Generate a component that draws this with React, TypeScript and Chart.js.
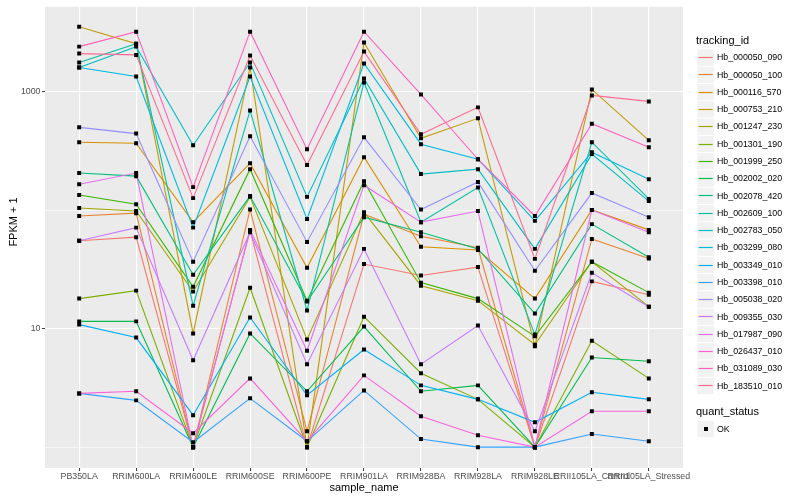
import React, { useEffect, useRef } from "react";
import { Chart, registerables } from "chart.js";

Chart.register(...registerables);

const FONT = '"Liberation Sans", Arial, sans-serif';

const sampleNames = [
  "PB350LA", "RRIM600LA", "RRIM600LE", "RRIM600SE", "RRIM600PE", "RRIM901LA",
  "RRIM928BA", "RRIM928LA", "RRIM928LE", "RRII105LA_Control", "RRII105LA_Stressed",
];

const trackingIds = [
  "Hb_000050_090", "Hb_000050_100", "Hb_000116_570", "Hb_000753_210", "Hb_001247_230",
  "Hb_001301_190", "Hb_001999_250", "Hb_002002_020", "Hb_002078_420", "Hb_002609_100",
  "Hb_002783_050", "Hb_003299_080", "Hb_003349_010", "Hb_003398_010", "Hb_005038_020",
  "Hb_009355_030", "Hb_017987_090", "Hb_026437_010", "Hb_031089_030", "Hb_183510_010",
];

const seriesColors = [
  "#F8766D", "#EA8331", "#D89000", "#C09B00", "#A3A500", "#7CAE00", "#39B600", "#00BB4E",
  "#00BF7D", "#00C1A3", "#00BFC4", "#00BAE0", "#00B0F6", "#35A2FF", "#9590FF", "#C77CFF",
  "#E76BF3", "#FA62DB", "#FF62BC", "#FF6C91",
];

// FPKM + 1 values, one array per gene, in sampleNames order
const Hb_000050_090 = [55, 59, 1, 67, 1, 35, 28, 33, 1, 25, 19.3];
const Hb_000050_100 = [89, 94, 1, 101, 1.36, 92, 60, 48, 1, 57, 39];
const Hb_000116_570 = [373, 366, 79, 248, 32.6, 279, 49, 46, 17.9, 100, 68];
const Hb_000753_210 = [3516, 2531, 9.1, 1592, 1, 2582, 403, 593, 7.1, 1040, 387];
const Hb_001247_230 = [104, 98, 20.5, 129, 8.1, 96, 23, 17.2, 7.3, 36.6, 15.3];
const Hb_001301_190 = [17.9, 20.9, 1, 22.1, 1, 12.6, 4.2, 2.53, 1, 7.9, 3.8];
const Hb_001999_250 = [134, 112, 22.5, 221, 17.2, 175, 24.4, 17.9, 8.6, 36.6, 20.1];
const Hb_002002_020 = [11.5, 11.5, 1, 9.1, 2.96, 10.4, 2.96, 3.32, 1, 5.7, 5.3];
const Hb_002078_420 = [205, 193, 28.4, 131, 16.9, 87, 65, 47, 13.4, 76, 40];
const Hb_002609_100 = [1753, 2531, 15.6, 692, 14.2, 1190, 79, 155, 8.9, 373, 124];
const Hb_002783_050 = [1592, 2388, 352, 1753, 129, 1286, 201, 221, 47, 296, 119];
const Hb_003299_080 = [1592, 1337, 71, 1337, 84, 1719, 359, 268, 81, 307, 182];
const Hb_003349_010 = [10.8, 8.4, 1.86, 12.4, 2.74, 6.66, 3.32, 2.53, 1.62, 2.9, 2.53];
const Hb_003398_010 = [2.84, 2.48, 1.1, 2.58, 1.12, 3.01, 1.17, 1, 1, 1.29, 1.12];
const Hb_005038_020 = [498, 441, 36.6, 419, 53.8, 410, 101, 172, 30.7, 139, 87];
const Hb_009355_030 = [55, 71, 5.4, 65, 5.0, 47, 5.0, 10.6, 1.36, 29.6, 15.3];
const Hb_017987_090 = [165, 205, 1, 68, 6.5, 162, 79, 98, 1, 100, 65];
const Hb_026437_010 = [2.84, 2.96, 1.31, 3.8, 1.12, 4.03, 1.82, 1.26, 1, 2.01, 2.01];
const Hb_031089_030 = [2388, 3192, 156, 3192, 326, 3192, 943, 268, 89, 535, 338];
const Hb_183510_010 = [2085, 2033, 126, 2009, 240, 2168, 435, 734, 38.7, 925, 824];

const seriesValues = [
  Hb_000050_090, Hb_000050_100, Hb_000116_570, Hb_000753_210, Hb_001247_230,
  Hb_001301_190, Hb_001999_250, Hb_002002_020, Hb_002078_420, Hb_002609_100,
  Hb_002783_050, Hb_003299_080, Hb_003349_010, Hb_003398_010, Hb_005038_020,
  Hb_009355_030, Hb_017987_090, Hb_026437_010, Hb_031089_030, Hb_183510_010,
];

const yGridValues = [1, 10, 100, 1000];
const yLabelledTicks = [10, 1000];
const quantStatus = ["OK"];

const xTitle = "sample_name";
const yTitle = "FPKM + 1";
const colourLegendTitle = "tracking_id";
const shapeLegendTitle = "quant_status";

const panelBackground = {
  id: "panelBackground",
  beforeDraw(chart: any) {
    const { ctx, chartArea: a } = chart;
    ctx.save();
    ctx.fillStyle = "#EBEBEB";
    ctx.fillRect(a.left, a.top, a.right - a.left, a.bottom - a.top);
    ctx.restore();
  },
};

// ggplot-like axis titles and legends, drawn as canvas text
const ggDecorations = {
  id: "ggDecorations",
  afterDraw(chart: any) {
    const { ctx, chartArea: a } = chart;
    ctx.save();
    ctx.fillStyle = "#000000";
    ctx.font = `11px ${FONT}`;
    ctx.textBaseline = "alphabetic";
    ctx.textAlign = "center";
    ctx.fillText(xTitle, (a.left + a.right) / 2, 491);

    ctx.save();
    ctx.translate(17.3, 222);
    ctx.rotate(-Math.PI / 2);
    ctx.fillText(yTitle, 0, 0);
    ctx.restore();

    const keyLeft = 697;
    const key = 17.28;
    const firstTop = 49;
    ctx.textAlign = "left";
    ctx.fillText(colourLegendTitle, 696, 43.5);
    trackingIds.forEach((id, i) => {
      const top = firstTop + i * key;
      ctx.fillStyle = "#F2F2F2";
      ctx.fillRect(keyLeft, top, key, key);
      ctx.strokeStyle = "#FFFFFF";
      ctx.lineWidth = 0.8;
      ctx.strokeRect(keyLeft, top, key, key);
      const ly = Math.floor(top + key / 2) + 0.5;
      ctx.strokeStyle = seriesColors[i];
      ctx.lineWidth = 1.2;
      ctx.beginPath();
      ctx.moveTo(keyLeft + 1.6, ly);
      ctx.lineTo(keyLeft + key - 1.6, ly);
      ctx.stroke();
      ctx.fillStyle = "#000000";
      ctx.font = `8.8px ${FONT}`;
      ctx.textBaseline = "middle";
      ctx.fillText(id, 717, top + key / 2 + 0.3);
    });

    ctx.font = `11px ${FONT}`;
    ctx.textBaseline = "alphabetic";
    ctx.fillStyle = "#000000";
    ctx.fillText(shapeLegendTitle, 696, 414.8);
    quantStatus.forEach((s, i) => {
      const top = 420.4 + i * key;
      ctx.fillStyle = "#F2F2F2";
      ctx.fillRect(keyLeft, top, key, key);
      ctx.strokeStyle = "#FFFFFF";
      ctx.lineWidth = 0.8;
      ctx.strokeRect(keyLeft, top, key, key);
      ctx.fillStyle = "#000000";
      ctx.fillRect(Math.round(keyLeft + key / 2 - 2), Math.round(top + key / 2 - 2), 4, 4);
      ctx.font = `8.8px ${FONT}`;
      ctx.textBaseline = "middle";
      ctx.fillText(s, 717, top + key / 2 + 0.3);
    });
    ctx.restore();
  },
};

export default function App() {
  const canvasRef = useRef<HTMLCanvasElement>(null);

  useEffect(() => {
    const lineDatasets = trackingIds.map((id, i) => ({
      type: "line" as const,
      label: id,
      data: seriesValues[i].map((v, j) => ({ x: j, y: v })),
      borderColor: seriesColors[i],
      backgroundColor: seriesColors[i],
      borderWidth: 1.1,
      pointRadius: 0,
      fill: false,
      tension: 0,
      order: -1 - i,
    }));
    const pointDataset = {
      type: "scatter" as const,
      label: quantStatus[0],
      data: seriesValues.flatMap((arr) => arr.map((v, j) => ({ x: j, y: v }))),
      pointStyle: "rect",
      pointRadius: 2.8,
      backgroundColor: "#000000",
      borderWidth: 0,
      showLine: false,
      order: -100,
    };

    const chart = new Chart(canvasRef.current as HTMLCanvasElement, {
      type: "line",
      data: { datasets: [...lineDatasets, pointDataset] as any },
      plugins: [panelBackground, ggDecorations],
      options: {
        animation: false,
        responsive: false,
        devicePixelRatio: 1,
        events: [],
        layout: { padding: { left: 0, top: 5, right: 117, bottom: 0 } },
        plugins: { legend: { display: false }, tooltip: { enabled: false }, title: { display: false } },
        scales: {
          x: {
            type: "linear",
            min: -0.6,
            max: 10.6,
            afterBuildTicks: (scale: any) => {
              scale.ticks = sampleNames.map((_, i) => ({ value: i }));
            },
            afterFit: (scale: any) => {
              scale.height = 32;
            },
            ticks: {
              autoSkip: false,
              maxRotation: 0,
              minRotation: 0,
              padding: 0.5,
              color: "#4D4D4D",
              font: { family: FONT, size: 8.8 },
              callback: (v: any) => sampleNames[Math.round(Number(v))] ?? "",
            },
            grid: {
              color: "#FFFFFF",
              lineWidth: 1.1,
              tickColor: "#333333",
              tickLength: 3,
              tickWidth: 1,
            },
            border: { display: false },
          },
          y: {
            type: "logarithmic",
            min: 0.667,
            max: 5176,
            afterBuildTicks: (scale: any) => {
              scale.ticks = yGridValues.map((v) => ({ value: v }));
            },
            afterFit: (scale: any) => {
              scale.width = 45;
            },
            ticks: {
              autoSkip: false,
              padding: 1.5,
              color: "#4D4D4D",
              font: { family: FONT, size: 8.8 },
              callback: (v: any) => (yLabelledTicks.includes(Number(v)) ? String(v) : ""),
            },
            grid: {
              color: "#FFFFFF",
              lineWidth: (c: any) => (c.tick && yLabelledTicks.includes(c.tick.value) ? 1.1 : 0.55),
              tickColor: (c: any) =>
                c.tick && yLabelledTicks.includes(c.tick.value) ? "#333333" : "rgba(0,0,0,0)",
              tickLength: 3,
              tickWidth: 1,
            },
            border: { display: false },
          },
        },
      } as any,
    });
    return () => chart.destroy();
  }, []);

  return (
    <div style={{ position: "absolute", left: 0, top: 0, width: 800, height: 500, background: "#FFFFFF" }}>
      <canvas ref={canvasRef} width={800} height={500} style={{ position: "absolute", left: 0, top: 0, width: 800, height: 500 }} />
    </div>
  );
}
